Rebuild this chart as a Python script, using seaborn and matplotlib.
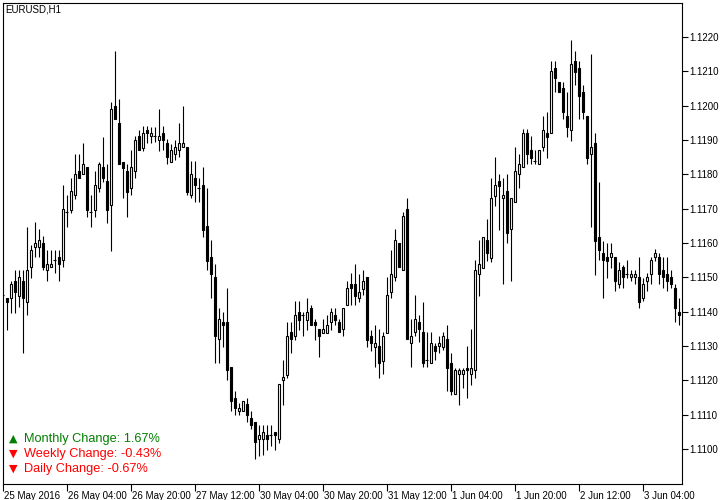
import numpy as np
import pandas as pd
import matplotlib
matplotlib.use("Agg")
import matplotlib.pyplot as plt
import matplotlib.transforms as mtransforms
import seaborn as sns

# ---------------- data (EURUSD H1) ----------------
open_ = [1.11449, 1.11439, 1.11439, 1.11490, 1.11447, 1.11490, 1.11429, 1.11529, 1.11589, 1.11589,
         1.11599, 1.11522, 1.11529, 1.11551, 1.11560, 1.11551, 1.11691, 1.11696, 1.11740, 1.11810,
         1.11800, 1.11822, 1.11689, 1.11696, 1.11759, 1.11822, 1.11780, 1.11711, 1.11999, 1.11948,
         1.11837, 1.11810, 1.11759, 1.11810, 1.11911, 1.11877, 1.11929, 1.11911, 1.11911, 1.11900,
         1.11919, 1.11890, 1.11837, 1.11859, 1.11871, 1.11879, 1.11879, 1.11740, 1.11788, 1.11759,
         1.11769, 1.11650, 1.11559, 1.11500, 1.11320, 1.11369, 1.11369, 1.11239, 1.11148, 1.11111,
         1.11111, 1.11131, 1.11090, 1.11079, 1.11030, 1.11030, 1.11042, 1.11042, 1.11049, 1.11029,
         1.11200, 1.11216, 1.11340, 1.11328, 1.11399, 1.11391, 1.11376, 1.11410, 1.11369, 1.11349,
         1.11339, 1.11339, 1.11369, 1.11391, 1.11369, 1.11349, 1.11420, 1.11480, 1.11480, 1.11439,
         1.11466, 1.11500, 1.11330, 1.11298, 1.11301, 1.11258, 1.11339, 1.11458, 1.11500, 1.11599,
         1.11522, 1.11699, 1.11308, 1.11340, 1.11369, 1.11340, 1.11260, 1.11250, 1.11301, 1.11301,
         1.11298, 1.11320, 1.11250, 1.11160, 1.11218, 1.11218, 1.11237, 1.11218, 1.11231, 1.11509,
         1.11528, 1.11609, 1.11557, 1.11738, 1.11780, 1.11730, 1.11751, 1.11640, 1.11719, 1.11801,
         1.11820, 1.11919, 1.11871, 1.11839, 1.11829, 1.11879, 1.11919, 1.11919, 1.12108, 1.12069,
         1.12050, 1.11970, 1.11929, 1.12130, 1.12110, 1.12040, 1.11970, 1.11858, 1.11890, 1.11618,
         1.11570, 1.11559, 1.11559, 1.11559, 1.11480, 1.11529, 1.11509, 1.11500, 1.11500, 1.11500,
         1.11439, 1.11488, 1.11509, 1.11559, 1.11559, 1.11522, 1.11509, 1.11500, 1.11468, 1.11399]
high = [1.11452, 1.11439, 1.11490, 1.11522, 1.11522, 1.11522, 1.11648, 1.11594, 1.11660, 1.11641,
        1.11621, 1.11580, 1.11580, 1.11580, 1.11580, 1.11769, 1.11740, 1.11788, 1.11859, 1.11859,
        1.11890, 1.11822, 1.11740, 1.11810, 1.11837, 1.11909, 1.11830, 1.12011, 1.12159, 1.12018,
        1.11837, 1.11830, 1.11871, 1.11912, 1.11929, 1.11940, 1.11940, 1.11937, 1.11937, 1.11990,
        1.11940, 1.11903, 1.11888, 1.11900, 1.11948, 1.11999, 1.11879, 1.11839, 1.11839, 1.11788,
        1.11822, 1.11759, 1.11609, 1.11539, 1.11410, 1.11399, 1.11470, 1.11239, 1.11170, 1.11134,
        1.11141, 1.11148, 1.11111, 1.11079, 1.11071, 1.11071, 1.11071, 1.11071, 1.11049, 1.11189,
        1.11260, 1.11371, 1.11371, 1.11431, 1.11431, 1.11400, 1.11439, 1.11420, 1.11379, 1.11349,
        1.11379, 1.11391, 1.11410, 1.11410, 1.11379, 1.11410, 1.11490, 1.11512, 1.11539, 1.11509,
        1.11522, 1.11500, 1.11347, 1.11362, 1.11349, 1.11342, 1.11500, 1.11580, 1.11641, 1.11599,
        1.11689, 1.11732, 1.11379, 1.11449, 1.11391, 1.11429, 1.11340, 1.11340, 1.11308, 1.11330,
        1.11340, 1.11362, 1.11279, 1.11237, 1.11237, 1.11237, 1.11301, 1.11350, 1.11551, 1.11609,
        1.11618, 1.11670, 1.11788, 1.11849, 1.11801, 1.11788, 1.11801, 1.11730, 1.11879, 1.11859,
        1.11931, 1.11931, 1.11911, 1.11871, 1.11871, 1.11970, 1.11980, 1.12130, 1.12130, 1.12069,
        1.12069, 1.12040, 1.12191, 1.12159, 1.12130, 1.12060, 1.11970, 1.12150, 1.11919, 1.11778,
        1.11607, 1.11599, 1.11599, 1.11559, 1.11546, 1.11536, 1.11551, 1.11522, 1.11522, 1.11559,
        1.11497, 1.11512, 1.11559, 1.11582, 1.11570, 1.11559, 1.11559, 1.11522, 1.11480, 1.11439]
low = [1.11446, 1.11347, 1.11397, 1.11397, 1.11415, 1.11279, 1.11389, 1.11499, 1.11560, 1.11560,
       1.11522, 1.11488, 1.11529, 1.11512, 1.11488, 1.11529, 1.11648, 1.11687, 1.11728, 1.11788,
       1.11800, 1.11677, 1.11648, 1.11677, 1.11749, 1.11778, 1.11659, 1.11578, 1.11960, 1.11829,
       1.11730, 1.11677, 1.11740, 1.11788, 1.11871, 1.11869, 1.11890, 1.11890, 1.11895, 1.11868,
       1.11871, 1.11830, 1.11837, 1.11842, 1.11851, 1.11879, 1.11740, 1.11730, 1.11719, 1.11719,
       1.11618, 1.11520, 1.11439, 1.11250, 1.11250, 1.11298, 1.11200, 1.11111, 1.11098, 1.11098,
       1.11111, 1.11079, 1.11059, 1.10972, 1.10979, 1.10983, 1.10998, 1.11008, 1.10998, 1.11017,
       1.11129, 1.11207, 1.11279, 1.11318, 1.11347, 1.11328, 1.11347, 1.11360, 1.11318, 1.11269,
       1.11339, 1.11339, 1.11347, 1.11360, 1.11340, 1.11328, 1.11420, 1.11420, 1.11420, 1.11429,
       1.11449, 1.11298, 1.11287, 1.11239, 1.11208, 1.11218, 1.11339, 1.11439, 1.11488, 1.11529,
       1.11522, 1.11320, 1.11239, 1.11328, 1.11313, 1.11239, 1.11239, 1.11250, 1.11260, 1.11279,
       1.11289, 1.11168, 1.11158, 1.11160, 1.11129, 1.11177, 1.11148, 1.11187, 1.11208, 1.11447,
       1.11528, 1.11549, 1.11546, 1.11709, 1.11638, 1.11480, 1.11599, 1.11488, 1.11719, 1.11759,
       1.11820, 1.11829, 1.11829, 1.11829, 1.11829, 1.11869, 1.11848, 1.11919, 1.12039, 1.12039,
       1.11960, 1.11909, 1.11898, 1.12060, 1.11960, 1.11960, 1.11829, 1.11648, 1.11507, 1.11551,
       1.11439, 1.11497, 1.11527, 1.11461, 1.11468, 1.11468, 1.11497, 1.11488, 1.11480, 1.11410,
       1.11431, 1.11461, 1.11480, 1.11548, 1.11480, 1.11468, 1.11461, 1.11468, 1.11371, 1.11362]
close = [1.11449, 1.11429, 1.11480, 1.11458, 1.11501, 1.11439, 1.11522, 1.11580, 1.11599, 1.11609,
         1.11529, 1.11538, 1.11538, 1.11551, 1.11538, 1.11699, 1.11691, 1.11751, 1.11800, 1.11788,
         1.11830, 1.11696, 1.11689, 1.11769, 1.11830, 1.11788, 1.11696, 1.11990, 1.11960, 1.11829,
         1.11819, 1.11749, 1.11822, 1.11900, 1.11871, 1.11919, 1.11919, 1.11919, 1.11911, 1.11911,
         1.11900, 1.11849, 1.11871, 1.11879, 1.11890, 1.11890, 1.11749, 1.11801, 1.11769, 1.11759,
         1.11638, 1.11549, 1.11509, 1.11328, 1.11379, 1.11360, 1.11229, 1.11139, 1.11119, 1.11119,
         1.11141, 1.11100, 1.11071, 1.11020, 1.11040, 1.11049, 1.11030, 1.11042, 1.11040, 1.11189,
         1.11209, 1.11330, 1.11320, 1.11391, 1.11376, 1.11391, 1.11399, 1.11360, 1.11360, 1.11328,
         1.11349, 1.11362, 1.11399, 1.11376, 1.11340, 1.11410, 1.11470, 1.11470, 1.11447, 1.11458,
         1.11490, 1.11318, 1.11308, 1.11308, 1.11250, 1.11330, 1.11449, 1.11509, 1.11609, 1.11529,
         1.11679, 1.11320, 1.11330, 1.11379, 1.11349, 1.11250, 1.11260, 1.11308, 1.11287, 1.11308,
         1.11328, 1.11237, 1.11168, 1.11231, 1.11231, 1.11231, 1.11231, 1.11237, 1.11522, 1.11538,
         1.11618, 1.11570, 1.11730, 1.11769, 1.11767, 1.11740, 1.11628, 1.11730, 1.11810, 1.11829,
         1.11919, 1.11859, 1.11848, 1.11839, 1.11871, 1.11929, 1.11909, 1.12101, 1.12079, 1.12039,
         1.11980, 1.11938, 1.12121, 1.12098, 1.12029, 1.11980, 1.11848, 1.11879, 1.11607, 1.11580,
         1.11551, 1.11549, 1.11570, 1.11488, 1.11522, 1.11500, 1.11509, 1.11509, 1.11509, 1.11429,
         1.11480, 1.11500, 1.11551, 1.11570, 1.11509, 1.11500, 1.11488, 1.11480, 1.11410, 1.11389]

x_tick_positions = [0, 16, 32, 48, 64, 80, 96, 112, 128, 144, 160]
x_tick_labels = ["25 May 2016", "26 May 04:00", "26 May 20:00", "27 May 12:00", "30 May 04:00",
                 "30 May 20:00", "31 May 12:00", "1 Jun 04:00", "1 Jun 20:00", "2 Jun 12:00",
                 "3 Jun 04:00"]
y_ticks = [1.1100, 1.1110, 1.1120, 1.1130, 1.1140, 1.1150, 1.1160, 1.1170,
           1.1180, 1.1190, 1.1200, 1.1210, 1.1220]
title_text = "EURUSD,H1"
change_labels = ["Monthly Change: 1.67%", "Weekly Change: -0.43%", "Daily Change: -0.67%"]
change_up = [True, False, False]

# ---------------- figure ----------------
sns.set_theme(style="white")
plt.rcParams['font.family'] = ['Liberation Sans', 'DejaVu Sans']

df = pd.DataFrame({"open": open_, "high": high, "low": low, "close": close})
df["idx"] = np.arange(len(df))

W, H = 725, 500
fig = plt.figure(figsize=(W / 100, H / 100), dpi=100)
fig.patch.set_facecolor("white")
ax = fig.add_axes([2.5 / W, (H - 483.5) / H, 679 / W, 481 / H])
ax.set_facecolor("white")

lw = 0.8
body_w = 0.5

# wicks
ax.vlines(df["idx"], df["low"], df["high"], color="black", linewidth=lw, zorder=2)

up = df[df["close"] > df["open"]]
dn = df[df["close"] < df["open"]]
dj = df[df["close"] == df["open"]]

ax.bar(up["idx"], up["close"] - up["open"], bottom=up["open"], width=body_w,
       facecolor="white", edgecolor="black", linewidth=lw, zorder=3)
ax.bar(dn["idx"], dn["open"] - dn["close"], bottom=dn["close"], width=body_w,
       facecolor="black", edgecolor="black", linewidth=lw, zorder=3)
ax.hlines(dj["open"], dj["idx"] - body_w / 2 - 0.125, dj["idx"] + body_w / 2 + 0.125,
          color="black", linewidth=lw, zorder=3)

ax.set_xlim(0, 169.75)
ax.set_ylim(1.10900, 1.12300)

for s in ax.spines.values():
    s.set_color("black")
    s.set_linewidth(0.8)

# right price axis
ax.yaxis.tick_right()
ax.set_yticks(y_ticks)
ax.set_yticklabels([f"{v:.4f}" for v in y_ticks])
ax.tick_params(axis="y", which="both", direction="out", length=4, width=0.8,
               color="black", labelsize=7, labelcolor="black", pad=1.5, right=True, left=False)

# bottom time axis
ax.set_xticks(x_tick_positions)
ax.set_xticklabels(x_tick_labels, ha="left")
ax.tick_params(axis="x", which="both", direction="out", length=5, width=0.8,
               color="black", labelsize=7, labelcolor="black", pad=0.5, bottom=True)
offset = mtransforms.ScaledTranslation(1.5 / 100, 0, fig.dpi_scale_trans)
for lab in ax.get_xticklabels():
    lab.set_transform(lab.get_transform() + offset)

ax.set_xlabel("")
ax.set_ylabel("")
ax.grid(False)

# title text
fig.text(5 / W, 1 - 10 / H, title_text, fontsize=7, color="black", va="center", ha="left")

# change annotations
ys = [439, 454, 469]
for lab, isup, yy in zip(change_labels, change_up, ys):
    col = "#008000" if isup else "#ff0000"
    sym = "\u25B2" if isup else "\u25BC"
    fig.text(8.5 / W, 1 - yy / H, sym, fontsize=8, color=col, va="center", ha="left",
             family=['DejaVu Sans'])
    fig.text(24.5 / W, 1 - yy / H, lab, fontsize=9.2, color=col, va="center", ha="left")

fig.savefig("out.png", dpi=100, facecolor="white")
